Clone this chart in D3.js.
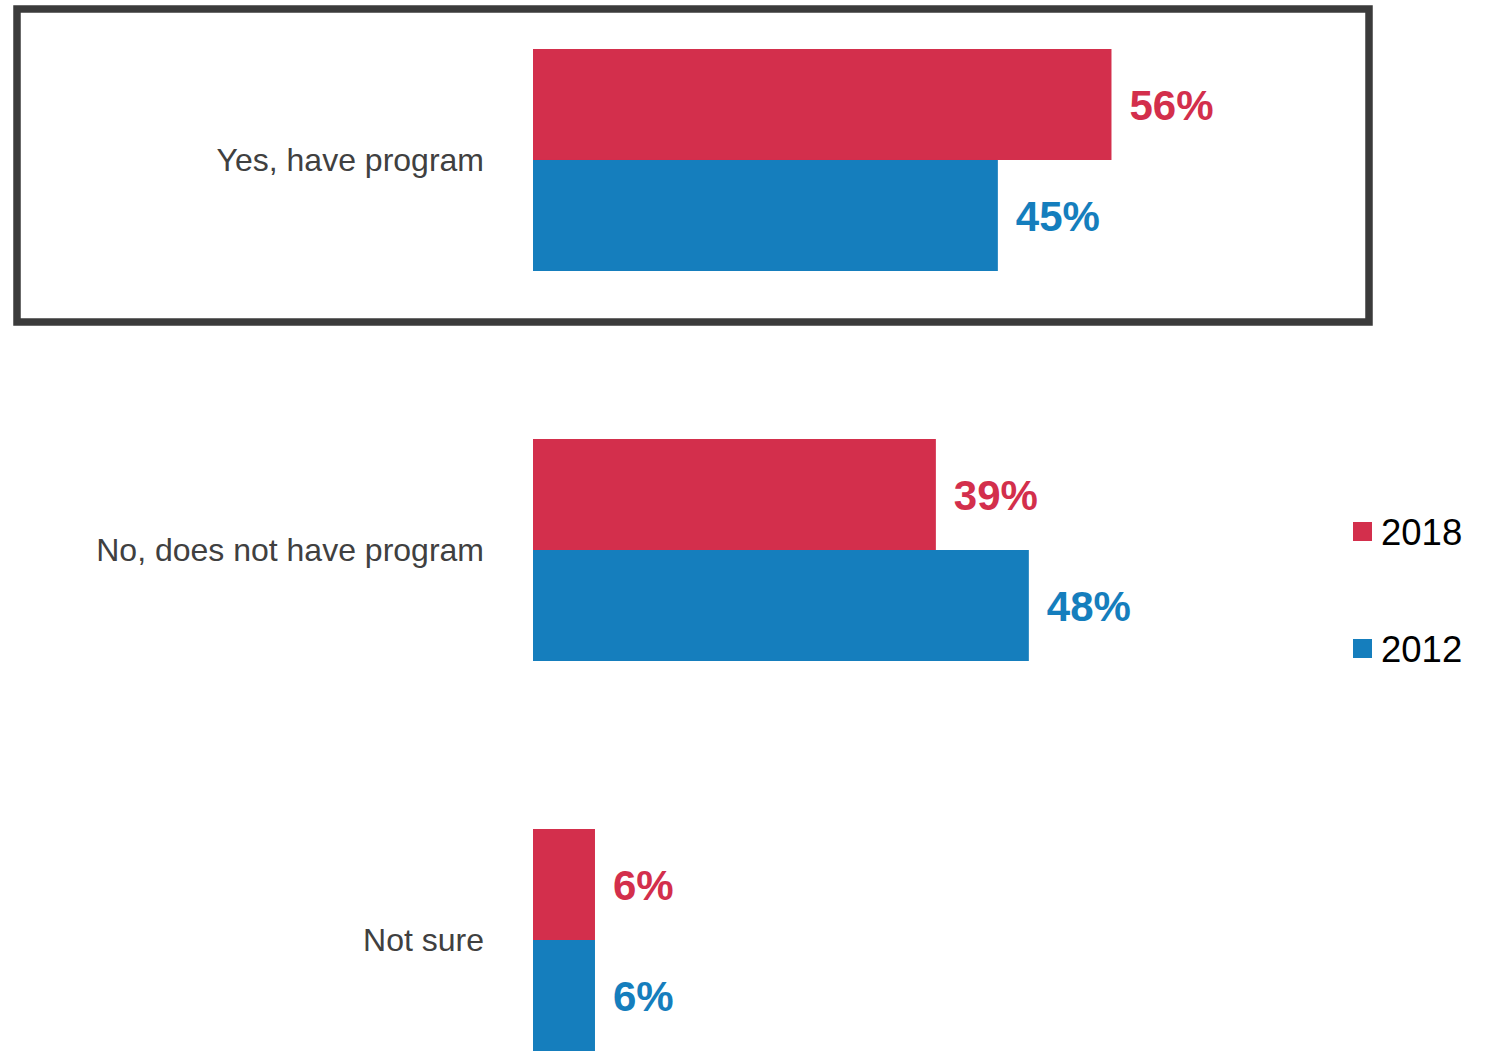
<!DOCTYPE html>
<html>
<head>
<meta charset="utf-8">
<script src="https://cdn.jsdelivr.net/npm/d3@7/dist/d3.min.js"></script>
<style>
  html, body { margin: 0; padding: 0; background: #fff; }
  svg { display: block; font-family: "Liberation Sans", Arial, sans-serif; }
</style>
</head>
<body>
<svg id="chart" width="1488" height="1051"></svg>
<script>
// Survey answers, two survey years
const categories = ["Yes, have program", "No, does not have program", "Not sure"];
const seriesNames = ["2018", "2012"];
const values2018 = [56, 39, 6];
const values2012 = [45, 48, 6];
const colors = { "2018": "#d32f4c", "2012": "#157ebd" };

const svg = d3.select("#chart");

const x = d3.scaleLinear().domain([0, 100]).range([533, 1566]);
const y = d3.scaleBand().domain(categories).range([49, 1051]).paddingInner(0.4308).paddingOuter(0);
const ySub = d3.scaleBand().domain(seriesNames).range([0, y.bandwidth()]).padding(0);

const rows = categories.map((c, i) => ({
  category: c,
  series: [
    { name: "2018", value: values2018[i] },
    { name: "2012", value: values2012[i] }
  ]
}));

// Highlight frame around the first answer
svg.append("rect")
  .attr("x", 17).attr("y", 9)
  .attr("width", 1352).attr("height", 313)
  .attr("fill", "none")
  .attr("stroke", "#3b3b3b")
  .attr("stroke-width", 7.5);

const groups = svg.selectAll("g.cat")
  .data(rows)
  .join("g")
  .attr("class", "cat")
  .attr("transform", d => `translate(0,${y(d.category)})`);

groups.selectAll("rect.bar")
  .data(d => d.series)
  .join("rect")
  .attr("class", "bar")
  .attr("x", x(0))
  .attr("y", d => ySub(d.name))
  .attr("width", d => x(d.value) - x(0))
  .attr("height", ySub.bandwidth())
  .attr("fill", d => colors[d.name]);

groups.selectAll("text.val")
  .data(d => d.series)
  .join("text")
  .attr("class", "val")
  .attr("x", d => x(d.value) + 18)
  .attr("y", d => ySub(d.name) + ySub.bandwidth() / 2)
  .attr("dy", "0.36em")
  .attr("font-size", 42)
  .attr("font-weight", "bold")
  .attr("fill", d => colors[d.name])
  .text(d => d.value + "%");

groups.append("text")
  .attr("class", "cat-label")
  .attr("x", 484)
  .attr("y", y.bandwidth() / 2)
  .attr("dy", "0.35em")
  .attr("text-anchor", "end")
  .attr("font-size", 32)
  .attr("fill", "#404040")
  .text(d => d.category);

// Legend
const legend = svg.append("g").attr("transform", "translate(1353,522)");
const li = legend.selectAll("g")
  .data(seriesNames)
  .join("g")
  .attr("transform", (d, i) => `translate(0,${i * 117})`);
li.append("rect")
  .attr("width", 19).attr("height", 19)
  .attr("fill", d => colors[d]);
li.append("text")
  .attr("x", 28)
  .attr("y", 9.5)
  .attr("dy", "0.36em")
  .attr("font-size", 36.5)
  .attr("fill", "#000")
  .text(d => d);
</script>
</body>
</html>
